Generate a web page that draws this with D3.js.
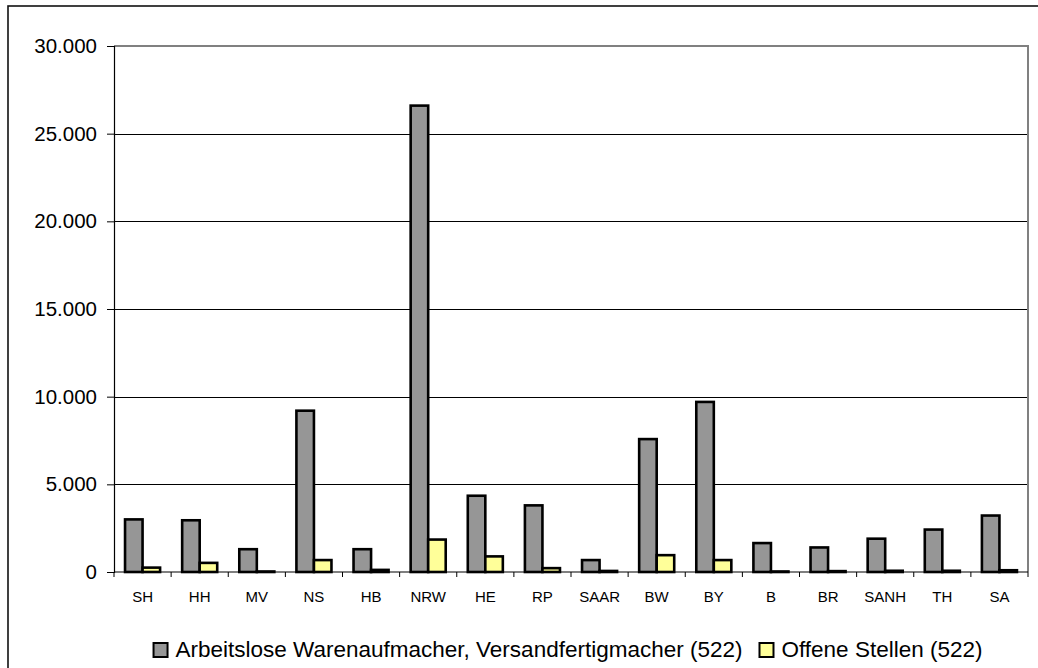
<!DOCTYPE html>
<html>
<head>
<meta charset="utf-8">
<script src="https://cdn.jsdelivr.net/npm/d3@7"></script>
<style>
  html, body { margin: 0; padding: 0; background: #fff; }
  svg { display: block; font-family: "Liberation Sans", Arial, sans-serif; }
</style>
</head>
<body>
<svg id="chart" width="1038" height="668"></svg>
<script>
const categories = ["SH","HH","MV","NS","HB","NRW","HE","RP","SAAR","BW","BY","B","BR","SANH","TH","SA"];
const seriesNames = ["Arbeitslose Warenaufmacher, Versandfertigmacher (522)", "Offene Stellen (522)"];
const arbeitslose = [3000, 2950, 1300, 9200, 1300, 26600, 4350, 3800, 680, 7580, 9700, 1650, 1400, 1900, 2420, 3220];
const offeneStellen = [250, 520, 30, 680, 120, 1850, 890, 220, 60, 960, 680, 30, 50, 70, 70, 100];
const yTicks = [0, 5000, 10000, 15000, 20000, 25000, 30000];
const colors = ["#969696", "#FFFF99"];

const svg = d3.select("#chart");
const plot = {left: 114, top: 46, right: 1028, bottom: 572};

// outer frame
svg.append("rect").attr("x", 8).attr("y", 6).attr("width", 1060).attr("height", 700)
  .attr("fill", "none").attr("stroke", "#111").attr("stroke-width", 1.6);

const x = d3.scaleBand().domain(categories).range([plot.left, plot.right]).paddingInner(0).paddingOuter(0);
const xs = d3.scaleBand().domain([0, 1]).range([0, x.bandwidth()]).paddingInner(0).paddingOuter(0.63);
const y = d3.scaleLinear().domain([0, 30000]).range([plot.bottom, plot.top]);

// gridlines
svg.append("g").selectAll("line").data(yTicks.filter(t => t > 0 && t < 30000)).join("line")
  .attr("x1", plot.left).attr("x2", plot.right)
  .attr("y1", d => Math.round(y(d)) + 0.5).attr("y2", d => Math.round(y(d)) + 0.5)
  .attr("stroke", "#000").attr("stroke-width", 1);

// plot area border (top/right gray)
svg.append("path")
  .attr("d", `M${plot.left},${plot.top} H${plot.right} V${plot.bottom}`)
  .attr("fill", "none").attr("stroke", "#808080").attr("stroke-width", 2);

// bars
const data = categories.map((c, i) => ({c, v: [arbeitslose[i], offeneStellen[i]]}));
const groups = svg.append("g").selectAll("g").data(data).join("g")
  .attr("transform", d => `translate(${x(d.c)},0)`);
groups.selectAll("rect").data(d => d.v.map((v, k) => ({v, k}))).join("rect")
  .attr("x", d => xs(d.k))
  .attr("width", xs.bandwidth())
  .attr("y", d => y(d.v))
  .attr("height", d => y(0) - y(d.v))
  .attr("fill", d => colors[d.k])
  .attr("stroke", "#000").attr("stroke-width", 2.6);

// y axis
const fmt = d3.formatLocale({decimal: ",", thousands: ".", grouping: [3], currency: ["", "€"]}).format(",");
const yAxis = d3.axisLeft(y).tickValues(yTicks).tickSize(7).tickPadding(10).tickFormat(d => fmt(d));
const gy = svg.append("g").attr("transform", `translate(${plot.left},0)`).call(yAxis);
gy.select(".domain").attr("stroke", "#000").attr("stroke-width", 1.2);
gy.selectAll(".tick line").attr("stroke", "#000");
gy.selectAll("text").attr("font-size", "20.5px").attr("fill", "#000")
  .attr("font-family", "'Liberation Sans', Arial, sans-serif");

// x axis
const gx = svg.append("g").attr("transform", `translate(0,${plot.bottom})`);
gx.append("line").attr("x1", plot.left).attr("x2", plot.right).attr("y1", 0).attr("y2", 0)
  .attr("stroke", "#000").attr("stroke-width", 1.2);
const bounds = categories.map(c => x(c)).concat([plot.right]);
gx.selectAll(".tk").data(bounds).join("line").attr("class", "tk")
  .attr("x1", d => d).attr("x2", d => d).attr("y1", 0).attr("y2", 5)
  .attr("stroke", "#000").attr("stroke-width", 1);
gx.selectAll(".lbl").data(categories).join("text").attr("class", "lbl")
  .attr("x", d => x(d) + x.bandwidth() / 2).attr("y", 30)
  .attr("text-anchor", "middle").attr("font-size", "15px").attr("fill", "#000").text(d => d);

// legend
const legend = svg.append("g");
const items = legend.selectAll("g").data(seriesNames).join("g");
items.append("rect").attr("width", 14).attr("height", 14).attr("y", 643)
  .attr("fill", (d, i) => colors[i]).attr("stroke", "#000").attr("stroke-width", 2);
items.append("text").attr("x", 22).attr("y", 657).attr("font-size", "22.5px").attr("fill", "#000").text(d => d);
let widths = [];
items.each(function() { widths.push(22 + this.querySelector("text").getComputedTextLength()); });
const gap = 17;
const total = d3.sum(widths) + gap * (widths.length - 1);
let cx = 568 - total / 2;
items.attr("transform", (d, i) => { const t = `translate(${cx},0)`; cx += widths[i] + gap; return t; });
</script>
</body>
</html>
